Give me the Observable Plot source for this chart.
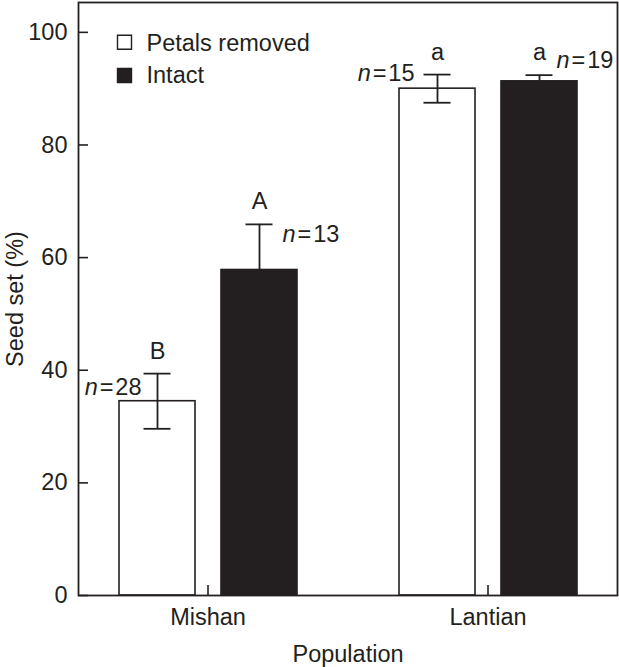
<!DOCTYPE html>
<html><head><meta charset="utf-8">
<script src="https://cdn.jsdelivr.net/npm/d3@7"></script>
<script src="https://cdn.jsdelivr.net/npm/@observablehq/plot@0.6"></script>
<style>
html,body{margin:0;padding:0;background:#fff}
svg{display:block}
</style>
</head><body><div id="chart"></div>
<script>
// ---- data ----
const populations = ["Mishan", "Lantian"];
const treatments = ["Petals removed", "Intact"];
// order: Mishan/Petals removed, Mishan/Intact, Lantian/Petals removed, Lantian/Intact
const meanSeedSet = [34.5, 57.8, 90.0, 91.3];
const errorSE = [4.9, 8.1, 2.5, 1.1];
const sampleSizes = [28, 13, 15, 19];
const letters = ["B", "A", "a", "a"];
const yTicks = [0, 20, 40, 60, 80, 100];

const rows = [];
populations.forEach((p, i) => treatments.forEach((t, j) => {
  const k = i * 2 + j;
  rows.push({population: p, treatment: t, mean: meanSeedSet[k], se: errorSE[k], n: sampleSizes[k], letter: letters[k]});
}));
const removed = rows.filter(d => d.treatment === "Petals removed");
const intact = rows.filter(d => d.treatment === "Intact");
const legendRows = treatments.map(t => ({population: populations[0], treatment: t}));

const ink = "#231f20";
const font = "'Liberation Sans', Arial, Helvetica, sans-serif";

function nLabel(row, opts) {
  return Plot.text([row], {fx: "population", x: "treatment", text: d => "n=" + d.n,
    fill: ink, lineAnchor: "bottom", ...opts});
}

const chart = Plot.plot({
  width: 619,
  height: 667,
  marginLeft: 78,
  marginRight: 2,
  marginTop: 2,
  marginBottom: 72,
  style: {fontFamily: font, fontSize: "23.5px", color: ink, background: "white"},
  fx: {domain: populations, paddingInner: 0.075, paddingOuter: 0, label: "Population"},
  x: {domain: treatments, paddingInner: 0.255, paddingOuter: 0.397, axis: null},
  y: {domain: [0, 105.3], label: "Seed set (%)"},
  color: {domain: treatments, range: ["white", ink]},
  marks: [
    Plot.barY(rows, {fx: "population", x: "treatment", y: "mean", fill: "treatment", stroke: ink, strokeWidth: 1.6}),
    // error bars: petals removed (both directions)
    Plot.ruleX(removed, {fx: "population", x: "treatment", y1: d => d.mean - d.se, y2: d => d.mean + d.se, stroke: ink, strokeWidth: 1.8}),
    Plot.tickY(removed, {fx: "population", x: "treatment", y: d => d.mean + d.se, stroke: ink, strokeWidth: 1.8, insetLeft: 24.5, insetRight: 24.5}),
    Plot.tickY(removed, {fx: "population", x: "treatment", y: d => d.mean - d.se, stroke: ink, strokeWidth: 1.8, insetLeft: 24.5, insetRight: 24.5}),
    // error bars: intact (upper only)
    Plot.ruleX(intact, {fx: "population", x: "treatment", y1: "mean", y2: d => d.mean + d.se, stroke: ink, strokeWidth: 1.8}),
    Plot.tickY(intact, {fx: "population", x: "treatment", y: d => d.mean + d.se, stroke: ink, strokeWidth: 1.8, insetLeft: 24.5, insetRight: 24.5}),
    // significance letters
    Plot.text(rows, {fx: "population", x: "treatment", y: d => d.mean + d.se, text: "letter", fill: ink, lineAnchor: "bottom", dy: -15}),
    // sample sizes
    nLabel(rows[0], {y: "mean", textAnchor: "end", dx: -16, dy: -6}),
    nLabel(rows[2], {y: "mean", textAnchor: "end", dx: -23, dy: -8}),
    nLabel(rows[1], {y: d => d.mean + d.se, textAnchor: "start", dx: 23, dy: 18}),
    nLabel(rows[3], {y: d => d.mean + d.se, textAnchor: "start", dx: 17, dy: -7}),
    // legend inside the frame
    Plot.dot(legendRows.slice(0, 1), {fx: "population", frameAnchor: "top-left", symbol: "square", r: 7.9, fill: "treatment", stroke: ink, strokeWidth: 1.4, dx: 46, dy: 39.7}),
    Plot.dot(legendRows.slice(1, 2), {fx: "population", frameAnchor: "top-left", symbol: "square", r: 7.9, fill: "treatment", stroke: ink, strokeWidth: 1.4, dx: 46, dy: 73}),
    Plot.text(legendRows.slice(0, 1), {fx: "population", frameAnchor: "top-left", text: "treatment", fill: ink, textAnchor: "start", lineAnchor: "bottom", dx: 68, dy: 48}),
    Plot.text(legendRows.slice(1, 2), {fx: "population", frameAnchor: "top-left", text: "treatment", fill: ink, textAnchor: "start", lineAnchor: "bottom", dx: 68, dy: 80}),
    // axes
    Plot.axisY({ticks: yTicks, tickSize: -10, tickPadding: 21, strokeWidth: 1.6, label: "Seed set (%)", labelAnchor: "center", labelOffset: 72.5, labelArrow: "none"}),
    Plot.axisFx({anchor: "bottom", tickSize: -10, tickPadding: 23, strokeWidth: 1.6, label: "Population", labelAnchor: "center", labelOffset: 66.5, labelArrow: "none"}),
    Plot.frame({facet: "super", stroke: ink, strokeWidth: 1.8})
  ]
});

// italic "n" in sample-size labels, with hair spaces around "="
d3.select(chart).selectAll("text").each(function() {
  const t = this.textContent;
  if (/^n=\d+$/.test(t) && this.childElementCount === 0) {
    const sel = d3.select(this);
    sel.text(null);
    sel.append("tspan").attr("font-style", "italic").text("n");
    sel.append("tspan").text("\u200A=\u200A" + t.slice(2));
  }
});

document.getElementById("chart").appendChild(chart);
</script>
</body></html>
